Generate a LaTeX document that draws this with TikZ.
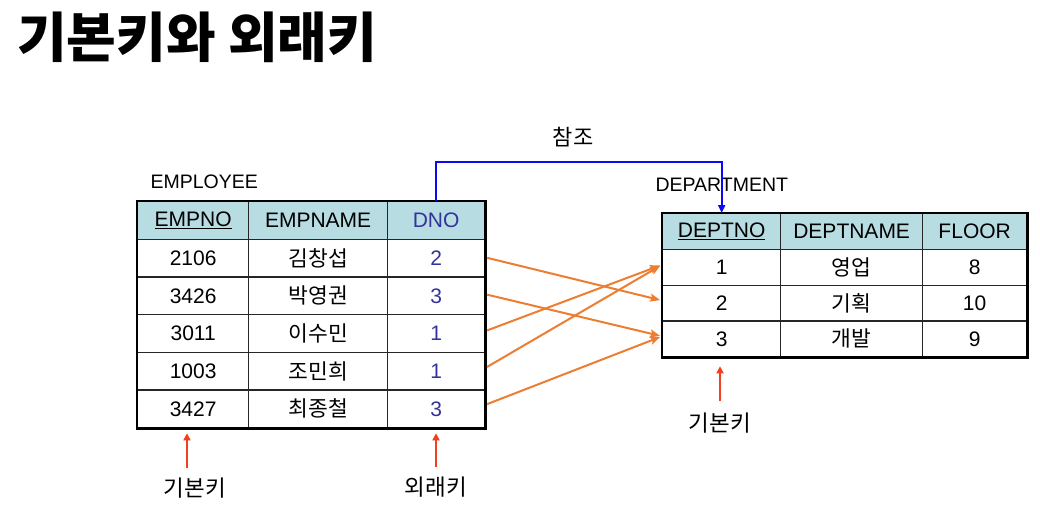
\documentclass[tikz,border=0pt]{standalone}
\usepackage{fontspec}
\setmainfont{Liberation Sans}
\newfontfamily\kr{Noto Sans CJK KR}
\newfontfamily\krblack{Noto Sans CJK KR Black}
\usetikzlibrary{arrows.meta,positioning}

\definecolor{headfill}{RGB}{183,221,227}
\definecolor{dno}{RGB}{51,51,153}
\definecolor{fkorange}{RGB}{237,125,49}
\definecolor{keyred}{RGB}{240,64,32}
\definecolor{refblue}{RGB}{10,10,245}

\tikzset{
  cell/.style={draw=black!85,line width=1.3pt,inner sep=0pt,anchor=north west,
    font=\fontsize{21}{21}\selectfont},
  head/.style={fill=headfill},
  kor/.style={font=\kr\fontsize{21.5}{21.5}\selectfont},
  outer/.style={line width=2.8pt},
  fk/.style={draw=fkorange,line width=2pt,-{Stealth[length=10pt,width=8pt,inset=2pt]}},
  keyarrow/.style={draw=keyred,line width=1.8pt,-{Triangle[length=7pt,width=7pt]}},
  keylbl/.style={font=\kr\fontsize{22.5}{22.5}\selectfont}
}

\begin{document}
\begin{tikzpicture}[x=1pt,y=-1pt]
\useasboundingbox (0,0) rectangle (1040,507);
% title
\node[anchor=west,inner sep=0pt,font=\krblack\fontsize{54}{54}\selectfont] (title) at (17,37) {기본키와 외래키};

% EMPLOYEE table
\node[anchor=base west,font=\fontsize{19.5}{19.5}\selectfont] (emp-name) at (147,188) {EMPLOYEE};
\foreach \c/\x/\w/\t in {1/137/111/\underline{EMPNO}, 2/248/139/EMPNAME, 3/387/97/\textcolor{dno}{DNO}}
  \node[cell,head,minimum width=\w,minimum height=38] (e-0-\c) at (\x,201) {\t};
\foreach \r/\a/\b/\d in {1/2106/김창섭/2, 2/3426/박영권/3, 3/3011/이수민/1, 4/1003/조민희/1, 5/3427/최종철/3} {
  \pgfmathsetmacro\y{201+37.67*\r}
  \node[cell,minimum width=111,minimum height=37.67] (e-\r-1) at (137,\y) {\a};
  \node[cell,kor,minimum width=139,minimum height=37.67] (e-\r-2) at (248,\y) {\b};
  \node[cell,text=dno,minimum width=97,minimum height=37.67] (e-\r-3) at (387,\y) {\d};
}
\draw[outer] (e-0-1.north west) rectangle (e-5-3.south east);

% DEPARTMENT table
\node[anchor=base west,font=\fontsize{19.5}{19.5}\selectfont] (dept-name) at (652,191) {DEPARTMENT};
\foreach \c/\x/\w/\t in {1/662/118/\underline{DEPTNO}, 2/780/142/DEPTNAME, 3/922/104/FLOOR}
  \node[cell,head,minimum width=\w,minimum height=36] (d-0-\c) at (\x,213) {\t};
\foreach \r/\b/\f in {1/영업/8, 2/기획/10, 3/개발/9} {
  \pgfmathsetmacro\y{213+35.75*\r}
  \node[cell,minimum width=118,minimum height=35.75] (d-\r-1) at (662,\y) {\r};
  \node[cell,kor,minimum width=142,minimum height=35.75] (d-\r-2) at (780,\y) {\b};
  \node[cell,minimum width=104,minimum height=35.75] (d-\r-3) at (922,\y) {\f};
}
\draw[outer] (d-0-1.north west) rectangle (d-3-3.south east);

% reference link
\coordinate (ref-bend) at (0,162);
\node[font=\kr\fontsize{22}{22}\selectfont] (ref-lbl) at (573,137) {참조};
\draw[refblue,line width=2.2pt,-{Triangle[length=8pt,width=7pt]}]
  (e-0-3.north) -- (e-0-3.north |- ref-bend) -| (d-0-1.north);

% foreign key values
\foreach \r/\k in {1/2, 2/3, 3/1, 4/1, 5/3}
  \draw[fk,shorten <=2pt,shorten >=2pt] ([yshift=\r*0.8]e-\r-3.east) -- ([yshift=2.5]d-\k-1.west);

% key labels
\node[keylbl] (e-pk) at (195,488) {기본키};
\node[keylbl] (e-fk) at (436,487) {외래키};
\node[keylbl] (d-pk) at (720,423) {기본키};
\draw[keyarrow,shorten <=6pt,shorten >=5pt] ([xshift=-8]e-pk.north) -- ([xshift=-8]e-pk.north |- e-5-1.south);
\draw[keyarrow,shorten <=6pt,shorten >=5pt] (e-fk.north) -- (e-fk.north |- e-5-3.south);
\draw[keyarrow,shorten <=8pt,shorten >=9pt] (d-pk.north) -- (d-pk.north |- d-3-1.south);
\end{tikzpicture}
\end{document}
